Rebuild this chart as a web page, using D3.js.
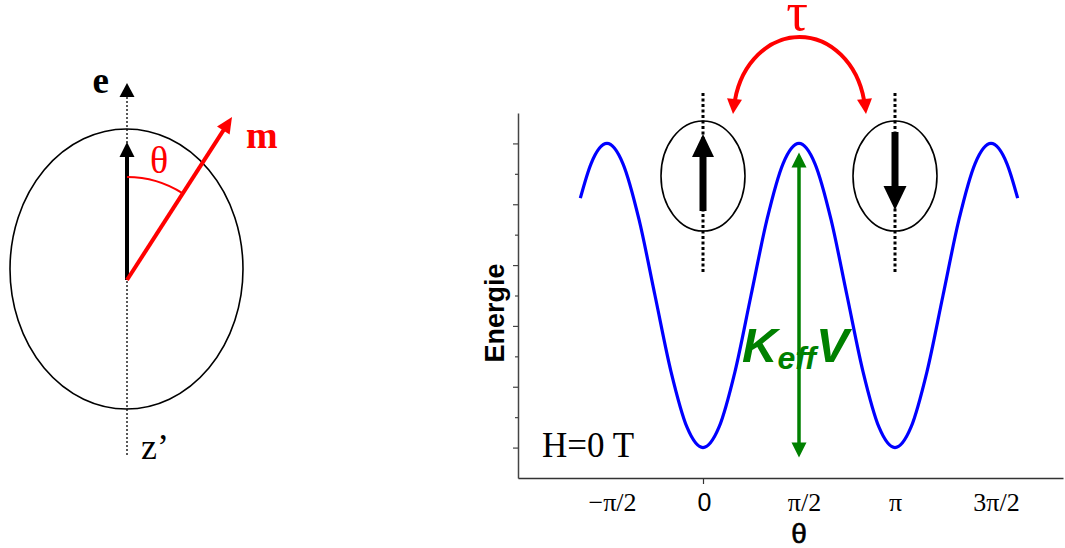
<!DOCTYPE html>
<html><head><meta charset="utf-8">
<script src="https://cdn.jsdelivr.net/npm/d3@7"></script>
<style>body{margin:0;background:#fff}svg{display:block}</style>
</head><body>
<svg id="c" width="1065" height="548"></svg>
<script>
// ---- data ----
const thetaDeg = [-115,-105,-90,-75,-60,-45,-30,-15,0,15,30,45,60,75,90,105,120,135,150,165,180,195,210,225,240,255,270,285,295];
const energy   = [8.2,9.33,10,9.33,7.5,5,2.5,0.67,0,0.67,2.5,5,7.5,9.33,10,9.33,7.5,5,2.5,0.67,0,0.67,2.5,5,7.5,9.33,10,9.33,8.2];
const xTickValues = [-90,0,90,180,270];
const xTickLabels = ["\u2212\u03c0/2","0","\u03c0/2","\u03c0","3\u03c0/2"];
const yTickValues = [0,1,2,3,4,5,6,7,8,9,10];
const stateAngles = [0,180];        // the two easy-axis states
const stateDirections = ["up","down"];
const barrierAngle = 90;
const barrierTop = 10, barrierBottom = 0;

const SERIF = "'Liberation Serif','Times New Roman',serif";
const SANS  = "'Liberation Sans',Arial,sans-serif";

const svg = d3.select("#c");

// ---- scales ----
const x = d3.scaleLinear().domain([-90,270]).range([607,991]);
const y = d3.scaleLinear().domain([-1,11]).range([478,113]);
const xAxisScale = d3.scaleLinear().domain([x.invert(518), x.invert(1063)]).range([518,1063]);

function head(g, tx, ty, ang, len, wid, color){
  const bx = tx - len*Math.cos(ang), by = ty - len*Math.sin(ang);
  const px = -Math.sin(ang)*wid/2, py = Math.cos(ang)*wid/2;
  g.append("path").attr("d",`M${tx},${ty}L${bx+px},${by+py}L${bx-px},${by-py}Z`).attr("fill",color);
}
function arrow(g, x1,y1,x2,y2, sw, len, wid, color){
  const ang = Math.atan2(y2-y1,x2-x1);
  const bx = x2 - (len-1)*Math.cos(ang), by = y2 - (len-1)*Math.sin(ang);
  g.append("line").attr("x1",x1).attr("y1",y1).attr("x2",bx).attr("y2",by)
    .attr("stroke",color).attr("stroke-width",sw);
  head(g,x2,y2,ang,len,wid,color);
}

// ================= left diagram =================
const L = svg.append("g");
const cx0 = 127, cy0 = 280;
L.append("ellipse").attr("cx",126.5).attr("cy",269).attr("rx",116.5).attr("ry",140)
  .attr("fill","none").attr("stroke","#000").attr("stroke-width",1.6);
L.append("line").attr("x1",cx0).attr("x2",cx0).attr("y1",97).attr("y2",455)
  .attr("stroke","#000").attr("stroke-width",1.3).attr("stroke-dasharray","2,2");
head(L,cx0,83,-Math.PI/2,14,15,"#000");
arrow(L,cx0,cy0,cx0,142,4,15,15,"#000");
arrow(L,cx0,cy0,232,117,4,16,15,"#ff0000");
{
  const r = 103, a = Math.atan2(232-cx0, cy0-117);
  L.append("path").attr("d",`M${cx0},${cy0-r}A${r},${r} 0 0 1 ${cx0+r*Math.sin(a)},${cy0-r*Math.cos(a)}`)
    .attr("fill","none").attr("stroke","#ff0000").attr("stroke-width",2);
}
L.append("text").attr("x",109).attr("y",93).attr("text-anchor","end")
  .style("font",`bold 37px ${SERIF}`).text("e");
L.append("text").attr("x",246).attr("y",148)
  .style("font",`bold 38px ${SERIF}`).attr("fill","#ff0000").text("m");
L.append("text").attr("x",150).attr("y",173)
  .style("font",`38px ${SERIF}`).attr("fill","#ff0000").text("\u03b8");
L.append("text").attr("x",141).attr("y",459)
  .style("font",`36px ${SERIF}`).text("z\u2019");

// ================= right chart =================
const C = svg.append("g");

const yAx = C.append("g").attr("transform","translate(518,0)")
  .call(d3.axisLeft(y).tickValues(yTickValues).tickSize(5).tickSizeOuter(0).tickFormat(""));
yAx.select(".domain").attr("stroke","#444").attr("stroke-width",1.5);
yAx.selectAll(".tick line").attr("stroke","#444").attr("stroke-width",1.2)
  .attr("x2", d => d%2===0 ? -5 : -3);

const xAx = C.append("g").attr("transform","translate(0,478)")
  .call(d3.axisBottom(xAxisScale).tickValues(xTickValues).tickSize(6).tickSizeOuter(0)
        .tickFormat((d,i)=>xTickLabels[i]));
xAx.select(".domain").attr("stroke","#333").attr("stroke-width",1.5);
xAx.selectAll(".tick line").attr("stroke","#333").attr("stroke-width",1.2)
  .attr("y2", d => d===0 ? 6 : 0);
xAx.selectAll(".tick text").attr("fill","#000").attr("y",33).attr("dy",0)
  .style("font", d => d===0 ? `25px ${SANS}` : `26px ${SERIF}`)
  .attr("dx", d => d===0 ? 1 : (d===180 ? 0 : 5));

C.append("text").attr("transform","translate(504,313) rotate(-90)").attr("text-anchor","middle")
  .style("font",`bold 27px ${SANS}`).text("Energie");
C.append("text").attr("x",x(barrierAngle)).attr("y",543).attr("text-anchor","middle")
  .style("font",`28px ${SANS}`).style("stroke","#000").style("stroke-width",0.6).text("\u03b8");

// energy curve
const pts = thetaDeg.map((t,i)=>({t, e:energy[i]}));
C.append("path").datum(pts)
  .attr("d", d3.line().x(d=>x(d.t)).y(d=>y(d.e)).curve(d3.curveMonotoneX))
  .attr("fill","none").attr("stroke","#0000ff").attr("stroke-width",3.2);

// state ellipses with moments
stateAngles.forEach((a,i)=>{
  const cx = x(a);
  C.append("ellipse").attr("cx",cx).attr("cy",176).attr("rx",42).attr("ry",55)
    .attr("fill","none").attr("stroke","#000").attr("stroke-width",1.6);
  C.append("line").attr("x1",cx).attr("x2",cx).attr("y1",93).attr("y2",273)
    .attr("stroke","#000").attr("stroke-width",3).attr("stroke-dasharray","3,2.5");
  if (stateDirections[i]==="up") arrow(C,cx,211,cx,134,7,23,22,"#000");
  else arrow(C,cx,132,cx,210,7,24,23,"#000");
});

// barrier arrow K_eff V
{
  const bx = x(barrierAngle);
  const top = y(barrierTop)+9, bot = y(barrierBottom)+10;
  const g = C.append("g");
  g.append("line").attr("x1",bx).attr("x2",bx).attr("y1",top+14).attr("y2",bot-14)
    .attr("stroke","#008000").attr("stroke-width",3.5);
  head(g,bx,top,-Math.PI/2,15,15,"#008000");
  head(g,bx,bot,Math.PI/2,15,15,"#008000");
  const t = C.append("text").attr("x",742).attr("y",362).attr("fill","#008000")
    .style("font",`italic bold 49px ${SANS}`);
  t.append("tspan").text("K");
  t.append("tspan").attr("dy",7).style("font-size","32px").text("eff");
  t.append("tspan").attr("dy",-7).text("V");
}

// relaxation tau
{
  const g = C.append("g");
  g.append("path").attr("d","M735,100A66,80 0 0 1 864,100")
    .attr("fill","none").attr("stroke","#ff0000").attr("stroke-width",4);
  head(g,733,114,Math.PI/2+0.1,15,15,"#ff0000");
  head(g,866,114,Math.PI/2-0.1,15,15,"#ff0000");
  g.append("text").attr("x",797).attr("y",30).attr("text-anchor","middle").attr("fill","#ff0000")
    .style("font",`54px ${SERIF}`).text("\u03c4");
}

C.append("text").attr("x",542).attr("y",457).style("font",`35px ${SERIF}`).text("H=0 T");
</script>
</body></html>
